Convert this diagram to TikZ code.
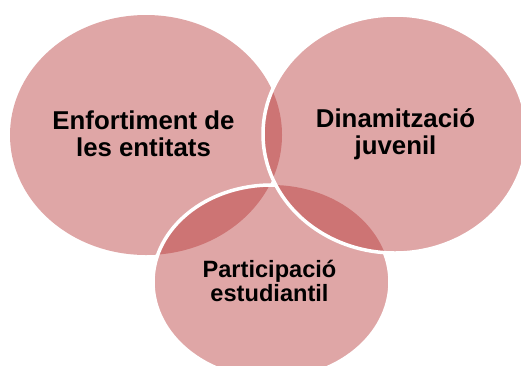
\documentclass[tikz,border=0pt]{standalone}
\usepackage{fontspec}
\setmainfont{Liberation Sans}
\definecolor{blobcol}{RGB}{182,52,52}
\begin{document}
\begin{tikzpicture}[x=1pt,y=-1pt,
  blob/.style={fill=blobcol,fill opacity=0.44},
  rim/.style={draw=white,line width=3.5pt},
  bigtxt/.style={align=center,inner sep=0pt,text=black,font=\bfseries\fontsize{25.8}{27.4}\selectfont},
  smalltxt/.style={align=center,inner sep=0pt,text=black,font=\bfseries\fontsize{23.6}{24}\selectfont}]
\useasboundingbox (0,0) rectangle (521,365);
\begin{scope}
\clip (0,0) rectangle (521,365);
% left ellipse
\fill[blob] (146,135) ellipse [x radius=136, y radius=120];
% bottom ellipse
\fill[blob] (271.5,282) ellipse [x radius=118.5, y radius=97];
\begin{scope}
  % everything outside the right ellipse
  \clip (-20,-20) -- (-20,400) -- (560,400) -- (560,-20) -- cycle
        (395,134) ellipse [x radius=132, y radius=119];
  \draw[rim] (271.5,282) ellipse [x radius=118.5, y radius=97];
\end{scope}
% right ellipse
\fill[blob] (395,134) ellipse [x radius=132, y radius=119];
\draw[rim] (395,134) ellipse [x radius=132, y radius=119];
\end{scope}
\node[bigtxt] (ent) at (143.5,134) {Enfortiment de\\les entitats};
\node[bigtxt] (din) at (395.5,134) {Dinamització\\juvenil};
\node[smalltxt] (par) at (269.5,281) {Participació\\estudiantil};
\end{tikzpicture}
\end{document}
